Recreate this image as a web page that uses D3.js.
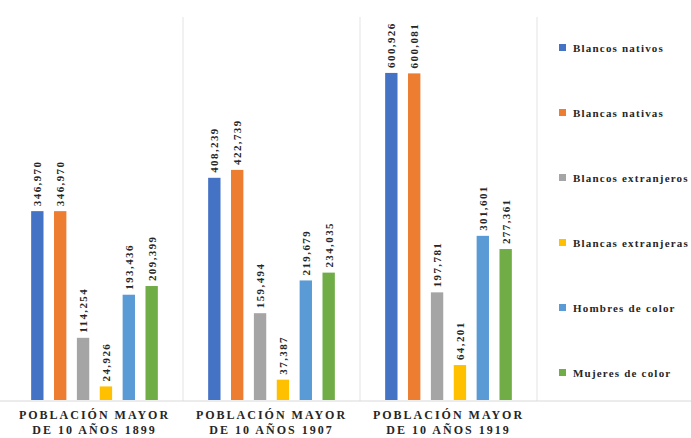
<!DOCTYPE html>
<html>
<head>
<meta charset="utf-8">
<script src="https://cdn.jsdelivr.net/npm/d3@7"></script>
<style>
  body { margin: 0; background: #fff; }
</style>
</head>
<body>
<div id="chart"></div>
<script>
const years = ["1899", "1907", "1919"];
const groupLabels = [["POBLACIÓN MAYOR", "DE 10 AÑOS 1899"], ["POBLACIÓN MAYOR", "DE 10 AÑOS 1907"], ["POBLACIÓN MAYOR", "DE 10 AÑOS 1919"]];
const series = ["Blancos nativos", "Blancas nativas", "Blancos extranjeros", "Blancas extranjeras", "Hombres de color", "Mujeres de color"];
const values1899 = [346970, 346970, 114254, 24926, 193436, 209399];
const values1907 = [408239, 422739, 159494, 37387, 219679, 234035];
const values1919 = [600926, 600081, 197781, 64201, 301601, 277361];
const colorTable = ["#4472C4", "#ED7D31", "#A5A5A5", "#FFC000", "#5B9BD5", "#70AD47"];

const width = 691;
const height = 438;
const serif = "'Liberation Serif', 'DejaVu Serif', 'Times New Roman', Times, serif";
const allValues = [values1899, values1907, values1919];

const svg = d3.select("#chart")
  .append("svg")
  .attr("width", width)
  .attr("height", height)
  .attr("font-family", serif)
  .attr("font-weight", "bold");

const x = d3.scaleBand()
  .domain(years)
  .range([6, 537]);

const xInner = d3.scaleBand()
  .domain(series)
  .range([0, x.bandwidth()])
  .paddingInner(0.46)
  .paddingOuter(1.1);

const y = d3.scaleLinear()
  .domain([0, 700000])
  .range([400, 19]);

const color = d3.scaleOrdinal()
  .domain(series)
  .range(colorTable);

const fmt = d3.format(",");

// separators between groups
svg.selectAll(".sep")
  .data(years)
  .enter()
  .append("line")
  .attr("x1", (d) => x(d) + x.bandwidth())
  .attr("x2", (d) => x(d) + x.bandwidth())
  .attr("y1", y(700000) - 2)
  .attr("y2", 401)
  .attr("stroke", "#ececec")
  .attr("stroke-width", 1.5);

svg.append("line")
  .attr("x1", 0)
  .attr("x2", width)
  .attr("y1", 401)
  .attr("y2", 401)
  .attr("stroke", "#d9d9d9");

const group = svg.selectAll(".group")
  .data(years)
  .enter()
  .append("g")
  .attr("transform", (d) => `translate(${x(d)},0)`);

group.selectAll("rect")
  .data((d, i) => allValues[i].map((v, j) => ({name: series[j], value: v})))
  .enter()
  .append("rect")
  .attr("x", (d) => xInner(d.name))
  .attr("y", (d) => y(d.value))
  .attr("width", xInner.bandwidth())
  .attr("height", (d) => y(0) - y(d.value))
  .attr("fill", (d) => color(d.name));

group.selectAll(".value")
  .data((d, i) => allValues[i].map((v, j) => ({name: series[j], value: v})))
  .enter()
  .append("text")
  .attr("class", "value")
  .attr("transform", (d) => `translate(${xInner(d.name) + xInner.bandwidth() / 2 + 4},${y(d.value) - 5}) rotate(-90)`)
  .attr("font-family", serif)
  .attr("font-size", 11)
  .attr("letter-spacing", 1.4)
  .attr("fill", "#262626")
  .text((d) => fmt(d.value));

group.each(function(d, i) {
  const g = d3.select(this);
  groupLabels[i].forEach((line, k) => {
    g.append("text")
      .attr("x", x.bandwidth() / 2)
      .attr("y", 419 + k * 15)
      .attr("text-anchor", "middle")
      .attr("font-family", serif)
      .attr("font-size", 12)
      .attr("letter-spacing", 2)
      .attr("fill", "#262626")
      .text(line);
  });
});

const legend = svg.append("g")
  .attr("transform", "translate(559,48)");

legend.selectAll("rect")
  .data(series)
  .enter()
  .append("rect")
  .attr("x", 0)
  .attr("y", (d, i) => i * 65 - 4)
  .attr("width", 7)
  .attr("height", 7)
  .attr("fill", (d) => color(d));

legend.selectAll("text")
  .data(series)
  .enter()
  .append("text")
  .attr("x", 14)
  .attr("y", (d, i) => i * 65 + 4)
  .attr("font-family", serif)
  .attr("font-size", 11)
  .attr("letter-spacing", 1.2)
  .attr("fill", "#262626")
  .text((d) => d);
</script>
</body>
</html>
